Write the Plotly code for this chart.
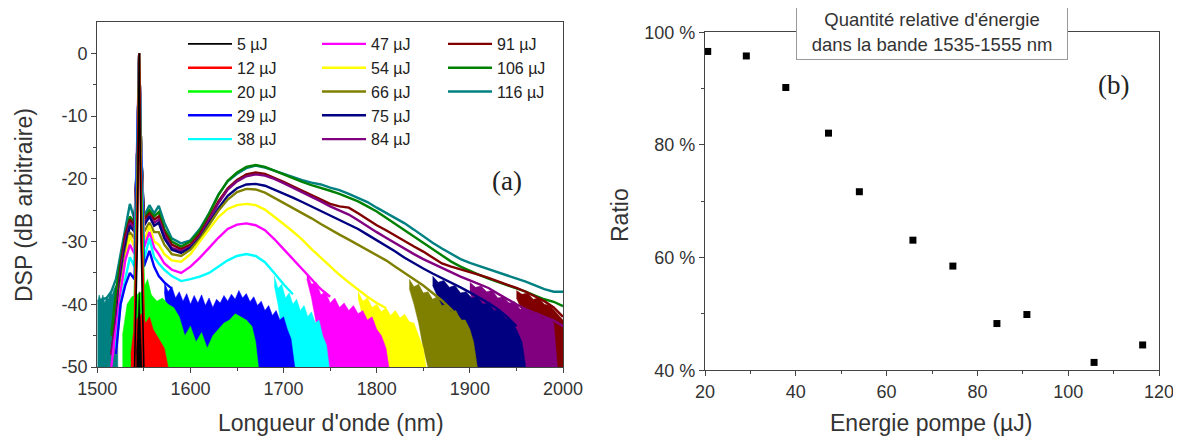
import plotly.graph_objects as go

# ---------------- data: panel (a) spectra ----------------
ENERGIES = [5, 12, 20, 29, 38, 47, 54, 66, 75, 84, 91, 106, 116]
LABELS = [f"{e} µJ" for e in ENERGIES]
COLORS = ["#000000", "#ff0000", "#00ff00", "#0000ff", "#00ffff", "#ff00ff", "#ffff00",
          "#808000", "#000080", "#800080", "#800000", "#008000", "#008080"]
FLOOR = -50  # noise floor of the analyser (dB)

WL = [1500, 1510, 1515, 1520, 1525, 1530, 1535, 1540, 1543, 1545, 1547, 1550, 1556, 1561, 1566, 1572, 1580, 1590,
      1600, 1610, 1620, 1630, 1640, 1650, 1660, 1670, 1680, 1690, 1700, 1710, 1720, 1730, 1740, 1750, 1760, 1770,
      1780, 1790, 1800, 1810, 1820, 1830, 1840, 1850, 1860, 1870, 1880, 1890, 1900, 1910, 1920, 1930, 1940, 1950,
      1960, 1970, 1980, 1990, 2000]
N = None

DSP_116 = [-39.5, -39, -38, -36, -32, -28, -24, -26.5, -15, 0, -15, -26, -24.2, -25.5, -24.3, -27, -29.5, -30.3,
           -29.8, -28, -25.5, -22.5, -20.4, -19.2, -18.3, -17.9, -18.2, -18.7, -19.2, -19.8, -20.2, -20.6, -20.9,
           -21.4, -21.8, -22.4, -23, -23.7, -24.6, -25.4, -26.2, -27.1, -28.1, -29.2, -30.2, -31.1, -32, -32.8,
           -33.4, -33.9, -34.4, -34.8, -35.3, -35.9, -36.4, -37, -37.6, -38, -38]
DSP_106 = [N, N, -45, -38, -33, -29, -26, -27, -15, 0, -15, -26.5, -25, -26, -25.3, -28, -30, -30.8,
           -30, -28.3, -25.6, -22.6, -20.3, -19, -18.1, -17.8, -18.1, -18.7, -19.3, -20, -20.5, -21, -21.4,
           -21.9, -22.4, -23, -23.6, -24.4, -25.2, -26.2, -27.2, -28.2, -29.3, -30.3, -31.3, -32.3, -33.2, -34,
           -34.7, -35.3, -35.9, -36.4, -37, -37.5, -38, -38.6, -39.2, -39.6, -40.3]
DSP_91 = [N, N, -48, -42, -34, -29, -26.5, -27.5, -15, 0, -15, -26.5, -25.5, -26.5, -26, -28.5, -30.5, -31.2,
          -30.5, -28.8, -26.3, -23.6, -21.5, -20.2, -19.3, -19, -19.2, -19.8, -20.5, -21.2, -21.9, -22.6, -23.3,
          -24, -24.4, -24.6, -25.5, -26.5, -27.4, -28.2, -29.1, -30, -30.8, -31.6, -32.6, -33.5, -34, -34.4,
          -34.8, -35.3, -35.8, -36.3, -36.8, -37.4, -38, -38.7, -39.5, -40.5, -42]
DSP_84 = [N, N, -48, -43, -35, -30, -27, -28, -15, 0, -15, -27, -26, -27, -26.5, -29, -31, -31.5,
          -30.8, -29.2, -26.6, -23.9, -21.7, -20.4, -19.6, -19.3, -19.5, -20, -20.7, -21.4, -22.1, -22.8, -23.6,
          -24.4, -25.1, -25.7, -26.6, -27.6, -28.5, -29.4, -30.3, -31.2, -32, -32.8, -33.5, -34.3, -35, -35.6,
          -36.2, -36.8, -37.4, -38.3, -39.2, -40, -40.8, -41.4, -42, -42.6, -43.5]
DSP_75 = [N, N, N, -44, -36, -31, -27.5, -28.5, -15, 0, -15, -27.5, -26, -27.5, -27, -29.5, -31.3, -31.8,
          -31, -29.5, -27.2, -24.7, -22.7, -21.5, -20.9, -20.8, -21.1, -21.7, -22.4, -23, -23.7, -24.4, -25.1,
          -25.8, -26.5, -27.2, -28, -28.9, -29.8, -30.6, -31.6, -32.6, -33.5, -34.3, -35.1, -35.8, -36.6, -37.3,
          -38.1, -38.9, -39.8, -40.8, -42, -43.5, N, N, N, N, N]
DSP_66 = [N, N, N, -46, -37, -32, -28.5, -29.5, -15, 0, -15, -28.5, -27, -28.5, -28.5, -30.5, -32, -32.3,
          -31.3, -29.6, -27.3, -25.1, -23.3, -22.1, -21.6, -21.7, -22.2, -23, -23.9, -24.7, -25.5, -26.3, -27.2,
          -28.1, -28.9, -29.7, -30.5, -31.3, -32.2, -33, -34, -35, -36, -37, -38.2, -39.4, -40.8, -42.5,
          N, N, N, N, N, N, N, N, N, N, N]
DSP_54 = [N, N, N, -48, -38, -33, -29, -31, -15, 0, -15, -30, -27.5, -30, -30.5, -32, -33, -33.2,
          -32, -30, -28, -26.1, -24.8, -24.2, -24, -24.2, -24.9, -26, -27.2, -28.4, -29.7, -31.2, -32.6,
          -34, -35.3, -36.5, -37.7, -38.8, -39.8, -40.6,
          N, N, N, N, N, N, N, N, N, N, N, N, N, N, N, N, N, N, N]
DSP_47 = [N, N, -50, -44, -38, -33, -30.5, -32, -15, 0, -15, -31, -28.5, -31, -32, -33.5, -34.5, -35,
          -34, -32.6, -31, -29.4, -28, -27.3, -27.1, -27.4, -28.2, -29.6, -31.2, -32.8, -34.4, -36, -37.6, -38.8,
          N, N, N, N, N, N, N, N, N, N, N, N, N, N, N, N, N, N, N, N, N, N, N, N, N]
DSP_38 = [N, N, N, -47, -40, -36, -32.5, -34, -15, 0, -15, -33, -29.5, -32.5, -33.5, -34.5, -35.5, -36.3,
          -36, -35.6, -35, -34, -33, -32.3, -32, -32.3, -33.3, -35, -36.8, -38.4,
          N, N, N, N, N, N, N, N, N, N, N, N, N, N, N, N, N, N, N, N, N, N, N, N, N, N, N, N, N]
DSP_29 = [N, N, N, -48, -40, -37, -35, -36, -16, 0, -16, -34, -31.5, -34, -35.5, -36.5, -37.5, N] + [N] * 41
DSP_20 = [N, N, N, N, N, N, -42, -40, -20, 0, -20, -38, N, N, N, N, N, N] + [N] * 41
DSP_12 = [N, N, N, N, N, N, N, -44, -25, 0, -25, -43, N, N, N, N, N, N] + [N] * 41
DSP_5 = [N, N, N, N, N, N, N, -50, -30, 0, -30, -50, N, N, N, N, N, N] + [N] * 41

# parts of each spectrum that fall into the noise floor: upper and lower envelopes
NOISE_WL_116 = [1500, 1502, 1504, 1506, 1508, 1510, 1512, 1514, 1516, 1518, 1520, 1522]
NOISE_TOP_116 = [-40, -38.5, -39.5, -38.5, -39.8, -38.8, -39.2, -38, -38.5, -37.5, -37, -38]
NOISE_BOT_116 = [FLOOR] * 12
NOISE_WL_91 = [1950, 1956, 1962, 1968, 1974, 1980, 1986, 1992, 2000]
NOISE_TOP_91 = [-37.8, -38.4, -38.2, -39.2, -39, -40, -40.2, -41.2, -42.5]
NOISE_BOT_91 = [-39, -41, -43, -45, -47, -49, -50, -50, -50]
NOISE_WL_84 = [1900, 1906, 1912, 1918, 1924, 1930, 1936, 1942, 1948, 1954, 1960, 1966, 1972, 1978, 1984,
               1990, 1994]
NOISE_TOP_84 = [-36.5, -37.3, -37.1, -38, -37.8, -39, -38.8, -39.8, -39.6, -40.8, -40.6, -41.5, -41.3, -42.3,
                -42.1, -43, -50]
NOISE_BOT_84 = [-38, -41, -44, -47] + [FLOOR] * 13
NOISE_WL_75 = [1860, 1866, 1872, 1878, 1884, 1890, 1896, 1902, 1908, 1914, 1920, 1926, 1932, 1938, 1944, 1950,
               1956, 1960]
NOISE_TOP_75 = [-35.5, -36.5, -36.2, -37.3, -37, -38.2, -38, -39, -38.8, -40, -39.8, -41, -40.8, -42.2, -42.5,
                -44, -46, -50]
NOISE_BOT_75 = [-37, -39, -42, -45, -48] + [FLOOR] * 13
NOISE_WL_66 = [1835, 1840, 1845, 1850, 1855, 1860, 1865, 1870, 1875, 1880, 1885, 1890, 1895, 1900, 1904, 1908]
NOISE_TOP_66 = [-36, -37.2, -36.8, -38.2, -38, -39.2, -38.8, -40.2, -40, -41.2, -41, -42.5, -42.5, -44, -46, -50]
NOISE_BOT_66 = [-37.5, -40, -43, -47] + [FLOOR] * 12
NOISE_WL_54 = [1780, 1785, 1790, 1795, 1800, 1805, 1810, 1815, 1820, 1825, 1830, 1835, 1840, 1845, 1850, 1853]
NOISE_TOP_54 = [-38, -39.5, -39, -40.5, -40, -41.2, -40.6, -41.8, -41, -42.2, -41.6, -42.8, -43, -45, -47, -50]
NOISE_BOT_54 = [-39, -42, -46] + [FLOOR] * 13
NOISE_WL_47 = [1725, 1730, 1735, 1740, 1745, 1750, 1755, 1760, 1765, 1770, 1775, 1780, 1785, 1790, 1795, 1800,
               1805, 1810, 1813]
NOISE_TOP_47 = [-35, -36.8, -36.5, -38.5, -38, -39.8, -39, -40.5, -39.8, -41, -40.2, -41.5, -41, -42.5, -42, -44,
                -45, -47, -50]
NOISE_BOT_47 = [-36, -39, -43, -47] + [FLOOR] * 15
NOISE_WL_38 = [1690, 1694, 1698, 1702, 1706, 1710, 1714, 1718, 1722, 1726, 1730, 1734, 1738, 1742, 1746, 1749]
NOISE_TOP_38 = [-35.5, -37.5, -36.8, -39, -38.2, -40, -39.2, -41, -40.2, -42, -41.2, -43, -42.5, -45, -46.5, -50]
NOISE_BOT_38 = [-37, -40, -44, -48] + [FLOOR] * 12
NOISE_WL_29 = [1572, 1576, 1580, 1584, 1588, 1592, 1596, 1600, 1604, 1608, 1612, 1616, 1620, 1624, 1628, 1632,
               1636, 1640, 1644, 1648, 1652, 1656, 1660, 1664, 1668, 1672, 1676, 1680, 1684, 1688, 1692, 1696,
               1700, 1704, 1708, 1712]
NOISE_TOP_29 = [-36.5, -38, -37.2, -39, -38, -39.5, -38.3, -40, -38.6, -39.8, -38.5, -40.2, -39, -40.5, -39.2,
                -39.8, -38.6, -39.5, -38.4, -39.2, -37.8, -39, -38.3, -39.6, -38.8, -40.2, -39.5, -41, -40.2,
                -41.8, -41, -42.5, -42, -44, -45.5, -50]
NOISE_BOT_29 = [-38, -43] + [FLOOR] * 34
NOISE_WL_20 = [1527, 1532, 1537, 1542, 1548, 1554, 1558, 1564, 1570, 1576, 1582, 1588, 1594, 1600, 1606,
               1612, 1618, 1624, 1630, 1636, 1642, 1648, 1654, 1660, 1666, 1670, 1673]
NOISE_TOP_20 = [-45, -40, -38.8, -38.5, -38, -36, -38.5, -39.5, -39, -40, -40.5, -42, -45, -43.5, -46,
                -44.5, -47, -45, -44, -43, -42.5, -41.5, -42, -42.5, -43.5, -46, -50]
NOISE_BOT_20 = [FLOOR] * 27
NOISE_WL_12 = [1536, 1540, 1544, 1548, 1552, 1556, 1560, 1564, 1568, 1572, 1576]
NOISE_TOP_12 = [-48, -43, -42, -41.5, -43, -42, -44, -45, -46, -47, -50]
NOISE_BOT_12 = [FLOOR] * 11
NOISE_WL_5 = [1542, 1544, 1545, 1546, 1548]
NOISE_TOP_5 = [-48, -42, -38, -42, -48]
NOISE_BOT_5 = [FLOOR] * 5

# ---------------- data: panel (b) ----------------
PUMP_ENERGY = [20.6, 29.1, 37.8, 47.2, 54.0, 65.8, 74.6, 84.3, 90.9, 105.7, 116.4]
RATIO_PCT = [96.6, 95.8, 90.2, 82.1, 71.7, 63.1, 58.5, 48.3, 49.9, 41.4, 44.5]

DSP = {5: DSP_5, 12: DSP_12, 20: DSP_20, 29: DSP_29, 38: DSP_38, 47: DSP_47, 54: DSP_54,
       66: DSP_66, 75: DSP_75, 84: DSP_84, 91: DSP_91, 106: DSP_106, 116: DSP_116}
NOISE = {5: (NOISE_WL_5, NOISE_TOP_5, NOISE_BOT_5), 12: (NOISE_WL_12, NOISE_TOP_12, NOISE_BOT_12),
         20: (NOISE_WL_20, NOISE_TOP_20, NOISE_BOT_20), 29: (NOISE_WL_29, NOISE_TOP_29, NOISE_BOT_29),
         38: (NOISE_WL_38, NOISE_TOP_38, NOISE_BOT_38), 47: (NOISE_WL_47, NOISE_TOP_47, NOISE_BOT_47),
         54: (NOISE_WL_54, NOISE_TOP_54, NOISE_BOT_54), 66: (NOISE_WL_66, NOISE_TOP_66, NOISE_BOT_66),
         75: (NOISE_WL_75, NOISE_TOP_75, NOISE_BOT_75), 84: (NOISE_WL_84, NOISE_TOP_84, NOISE_BOT_84),
         91: (NOISE_WL_91, NOISE_TOP_91, NOISE_BOT_91), 116: (NOISE_WL_116, NOISE_TOP_116, NOISE_BOT_116)}

FONT = "Liberation Sans, Arial, sans-serif"
SERIF = "Liberation Serif, DejaVu Serif, serif"

# the page places the figure 8 px in from the window corner
PAGE_OFFSET = 8
W, H = 1181 - PAGE_OFFSET, 439 - PAGE_OFFSET


def px(x):
    return (x - PAGE_OFFSET) / W


def py(y):
    return 1 - (y - PAGE_OFFSET) / H


fig = go.Figure()

# highest energy drawn first so low-energy traces sit on top (as in the original)
for rank in reversed(range(len(ENERGIES))):
    e = ENERGIES[rank]
    col = COLORS[rank]
    if e in NOISE:
        nwl, ntop, nbot = NOISE[e]
        fig.add_trace(go.Scatter(
            x=list(nwl) + list(reversed(nwl)), y=list(ntop) + list(reversed(nbot)),
            fill="toself", fillcolor=col, mode="lines", line=dict(width=0.5, color=col),
            showlegend=False, hoverinfo="skip", xaxis="x", yaxis="y"))
    leg = "legend" if rank < 5 else ("legend2" if rank < 10 else "legend3")
    fig.add_trace(go.Scatter(
        x=WL, y=DSP[e], mode="lines", name=LABELS[rank],
        line=dict(color=col, width=1.6 if rank == 0 else 2.4),
        legend=leg, legendrank=rank, xaxis="x", yaxis="y"))

fig.add_trace(go.Scatter(
    x=PUMP_ENERGY, y=RATIO_PCT, mode="markers", showlegend=False,
    marker=dict(symbol="square", size=7, color="black"), cliponaxis=False,
    xaxis="x2", yaxis="y2"))

axis_common = dict(showline=True, linecolor="#444", linewidth=1.2, mirror=True, ticks="outside",
                   ticklen=5, tickcolor="#444", showgrid=False, zeroline=False, automargin=False,
                   tickfont=dict(family=FONT, size=18, color="#333"))
legend_common = dict(xanchor="left", yanchor="top", bgcolor="rgba(0,0,0,0)", itemwidth=44,
                     font=dict(family=FONT, size=16, color="#222"), tracegroupgap=0)

fig.update_layout(
    width=W, height=H, margin=dict(l=0, r=0, t=0, b=0, autoexpand=False),
    paper_bgcolor="white", plot_bgcolor="white",
    xaxis=dict(domain=[px(97.3), px(563)], range=[1500, 2000], tickvals=[1500, 1600, 1700, 1800, 1900, 2000],
               minor=dict(dtick=50, ticks="outside", ticklen=3, tickcolor="#444"), anchor="y", **axis_common),
    yaxis=dict(domain=[py(367), py(22)], range=[-50, 5],
               tickvals=[0, -10, -20, -30, -40, -50], ticktext=["0", "-10", "-20", "-30", "-40", "-50"],
               minor=dict(tickvals=[-45, -35, -25, -15, -5], ticks="outside", ticklen=3, tickcolor="#444"),
               anchor="x", **axis_common),
    xaxis2=dict(domain=[px(705), px(1159)], range=[20, 120], tickvals=[20, 40, 60, 80, 100, 120],
                minor=dict(dtick=10, ticks="outside", ticklen=3, tickcolor="#444"), anchor="y2", **axis_common),
    yaxis2=dict(domain=[py(370.3), py(32.3)], range=[40, 100],
                tickvals=[40, 60, 80, 100], ticktext=["40 %", "60 %", "80 %", "100 %"],
                minor=dict(tickvals=[50, 70, 90], ticks="outside", ticklen=3, tickcolor="#444"),
                anchor="x2", **axis_common),
    legend=dict(x=px(183), y=py(27), **legend_common),
    legend2=dict(x=px(317), y=py(27), **legend_common),
    legend3=dict(x=px(443), y=py(27), **legend_common),
    showlegend=True,
)

ann = [
    dict(text="Longueur d'onde (nm)", x=331, y=423, size=23),
    dict(text="DSP (dB arbitraire)", x=24, y=205, size=23, angle=-90),
    dict(text="Energie pompe (µJ)", x=931, y=423, size=23),
    dict(text="Ratio", x=620, y=215, size=23, angle=-90),
]
for a in ann:
    fig.add_annotation(text=a["text"], x=px(a["x"]), y=py(a["y"]), xref="paper", yref="paper",
                       showarrow=False, textangle=a.get("angle", 0), xanchor="center", yanchor="middle",
                       font=dict(family=FONT, size=a["size"], color="#333"))

fig.add_annotation(text="(a)", x=px(507), y=py(181), xref="paper", yref="paper", showarrow=False,
                   xanchor="center", yanchor="middle", font=dict(family=SERIF, size=27, color="#222"))
fig.add_annotation(text="(b)", x=px(1113), y=py(85), xref="paper", yref="paper", showarrow=False,
                   xanchor="center", yanchor="middle", font=dict(family=SERIF, size=27, color="#222"))
fig.add_annotation(text="Quantité relative d'énergie<br>dans la bande 1535-1555 nm",
                   x=px(932), y=py(32), xref="paper", yref="paper", showarrow=False,
                   xanchor="center", yanchor="middle",
                   width=268, height=52, bgcolor="white", bordercolor="#999", borderwidth=1,
                   font=dict(family=FONT, size=18.5, color="#333"), align="center")

fig.write_html("out.html")
